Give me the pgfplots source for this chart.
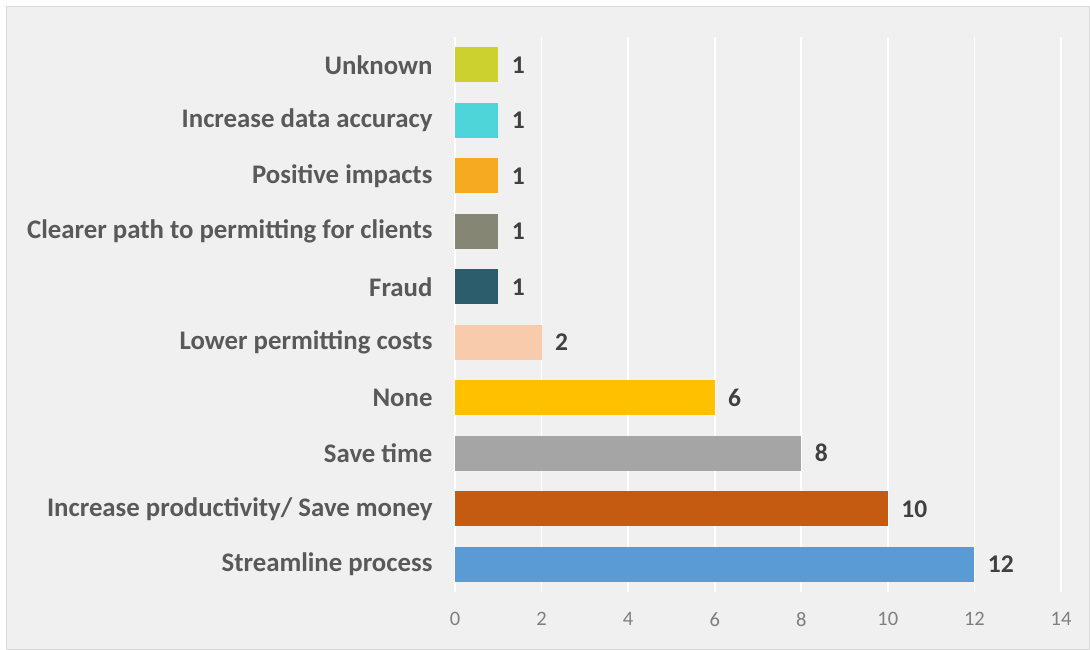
\documentclass[border=0pt]{standalone}
\usepackage{pgfplots}
\pgfplotsset{compat=1.18}
\usepackage{fontspec}
\setmainfont{Carlito}
\definecolor{bg}{HTML}{F0F0F0}
\definecolor{frame}{HTML}{D9D9D9}
\definecolor{labc}{HTML}{595959}
\definecolor{valc}{HTML}{404040}
\definecolor{tickc}{HTML}{7F7F7F}
\definecolor{c0}{HTML}{5B9BD5}
\definecolor{c1}{HTML}{C55A11}
\definecolor{c2}{HTML}{A5A5A5}
\definecolor{c3}{HTML}{FFC000}
\definecolor{c4}{HTML}{F8CBAD}
\definecolor{c5}{HTML}{2B5D6C}
\definecolor{c6}{HTML}{868674}
\definecolor{c7}{HTML}{F5AA22}
\definecolor{c8}{HTML}{4DD5DA}
\definecolor{c9}{HTML}{CCD12F}
\begin{document}
\begin{tikzpicture}
\fill[white] (-455bp,-57bp) rectangle (635bp,592bp);
\filldraw[fill=bg,draw=frame,line width=1bp] (-448bp,-57bp) rectangle (634bp,585bp);
\begin{axis}[
  scale only axis,
  width=606bp, height=555bp,
  xmin=0, xmax=14, ymin=-0.5, ymax=9.5,
  xtick={0,2,...,14},
  ytick={0,...,9},
  yticklabels={Streamline process, Increase productivity/ Save money, Save time, None, Lower permitting costs, Fraud, Clearer path to permitting for clients, Positive impacts, Increase data accuracy, Unknown},
  axis line style={draw=none},
  major tick length=0pt,
  xmajorgrids,
  grid style={white, line width=1.6bp},
  /pgf/number format/assume math mode=true,
  xticklabel style={font=\fontsize{20.5bp}{23bp}\selectfont, text=tickc, yshift=-17bp},
  yticklabel style={font=\fontsize{26.8bp}{29bp}\selectfont\bfseries, text=labc, xshift=-19bp},
  xbar, bar width=35bp, bar shift=0pt,
  nodes near coords,
  nodes near coords style={font=\fontsize{25.5bp}{28bp}\selectfont\bfseries, text=valc, xshift=10bp},
  every axis plot/.append style={draw=none},
]
\addplot[fill=c0] coordinates {(12,0)};
\addplot[fill=c1] coordinates {(10,1)};
\addplot[fill=c2] coordinates {(8,2)};
\addplot[fill=c3] coordinates {(6,3)};
\addplot[fill=c4] coordinates {(2,4)};
\addplot[fill=c5] coordinates {(1,5)};
\addplot[fill=c6] coordinates {(1,6)};
\addplot[fill=c7] coordinates {(1,7)};
\addplot[fill=c8] coordinates {(1,8)};
\addplot[fill=c9] coordinates {(1,9)};
\end{axis}
\end{tikzpicture}
\end{document}
